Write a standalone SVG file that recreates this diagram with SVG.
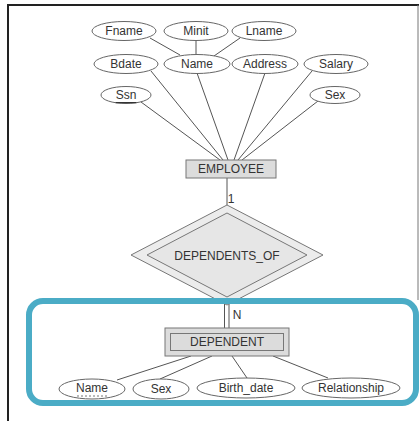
<svg xmlns="http://www.w3.org/2000/svg" width="419" height="421" viewBox="0 0 419 421">
<style>
.attr{fill:#fff;stroke:#666;stroke-width:1}
.t{font-family:"Liberation Sans",Arial,sans-serif;font-size:12px;fill:#333;text-anchor:middle;dominant-baseline:central}
.ln{stroke:#555;stroke-width:1;fill:none}
.ent{fill:#dcdcdc;stroke:#777;stroke-width:1}
</style>
<rect x="0" y="0" width="419" height="421" fill="#fff"/>
<g id="frame">
<path d="M8 421 V5 H419" fill="none" stroke="#222" stroke-width="2"/>
<path d="M418 5 V300" fill="none" stroke="#777" stroke-width="1"/>
</g>
<g id="connectors">
<line class="ln" x1="150" y1="38" x2="180" y2="55"/>
<line class="ln" x1="196" y1="40" x2="196" y2="55"/>
<line class="ln" x1="240" y1="38" x2="214" y2="56"/>
<line class="ln" x1="141" y1="102" x2="220" y2="160"/>
<line class="ln" x1="151" y1="71" x2="223" y2="160"/>
<line class="ln" x1="197" y1="73" x2="228" y2="160"/>
<line class="ln" x1="265" y1="73" x2="234" y2="160"/>
<line class="ln" x1="312" y1="71" x2="238" y2="160"/>
<line class="ln" x1="318" y1="101" x2="242" y2="160"/>
<line class="ln" x1="227" y1="178" x2="227" y2="205" stroke-width="1.5"/>
<line class="ln" x1="224.5" y1="302" x2="224.5" y2="328"/>
<line class="ln" x1="229" y1="302" x2="229" y2="328"/>
<line class="ln" x1="191" y1="356" x2="117" y2="380"/>
<line class="ln" x1="212" y1="356" x2="160" y2="379"/>
<line class="ln" x1="232" y1="356" x2="247" y2="378"/>
<line class="ln" x1="273" y1="356" x2="328" y2="378"/>
<text class="t" x="231" y="199" font-size="11">1</text>
<text class="t" x="237" y="315" font-size="11">N</text>
</g>
<g id="Fname"><ellipse class="attr" cx="124" cy="31" rx="32" ry="9.5"/><text class="t" x="124" y="31">Fname</text></g>
<g id="Minit"><ellipse class="attr" cx="196" cy="31" rx="32" ry="9.5"/><text class="t" x="196" y="31">Minit</text></g>
<g id="Lname"><ellipse class="attr" cx="264" cy="31" rx="32" ry="9.5"/><text class="t" x="264" y="31">Lname</text></g>
<g id="Bdate"><ellipse class="attr" cx="126" cy="64" rx="32" ry="9.5"/><text class="t" x="126" y="64">Bdate</text></g>
<g id="Name"><ellipse class="attr" cx="197" cy="64" rx="33" ry="9.5"/><text class="t" x="197" y="64">Name</text></g>
<g id="Address"><ellipse class="attr" cx="265" cy="64" rx="33" ry="9.5"/><text class="t" x="265" y="64">Address</text></g>
<g id="Salary"><ellipse class="attr" cx="336" cy="64" rx="32" ry="9.5"/><text class="t" x="336" y="64">Salary</text></g>
<g id="Ssn"><ellipse class="attr" cx="126" cy="95" rx="25" ry="8.5"/><text class="t" x="126" y="95" text-decoration="underline">Ssn</text></g>
<g id="Sex"><ellipse class="attr" cx="335" cy="95" rx="25" ry="8.5"/><text class="t" x="335" y="95">Sex</text></g>
<g id="EMPLOYEE"><rect class="ent" x="186" y="160" width="90" height="18"/><text class="t" x="231" y="169" font-size="12.5">EMPLOYEE</text></g>
<g id="DEPENDENTS_OF">
<polygon points="227,205 323,255 227,305 131,255" fill="#ececec" stroke="#777" stroke-width="1"/>
<polygon points="227,213 307,255 227,297 147,255" fill="#e6e6e6" stroke="#777" stroke-width="1"/>
<text class="t" x="227" y="256" font-size="12.5">DEPENDENTS_OF</text>
</g>
<g id="highlight"><rect x="29" y="301" width="387" height="102" rx="14" fill="none" stroke="#4BACC6" stroke-width="6"/></g>
<g id="DEPENDENT">
<rect class="ent" x="165" y="328" width="124" height="28" fill="#e4e4e4"/>
<rect class="ent" x="170.5" y="333.5" width="113" height="17"/>
<text class="t" x="227" y="342" font-size="12.5">DEPENDENT</text>
</g>
<g id="DName"><ellipse class="attr" cx="92" cy="389" rx="33" ry="10"/><text class="t" x="92" y="388">Name</text><line x1="77" y1="396" x2="107" y2="396" stroke="#777" stroke-width="1" stroke-dasharray="2,2"/></g>
<g id="DSex"><ellipse class="attr" cx="161" cy="389" rx="28" ry="10"/><text class="t" x="161" y="389">Sex</text></g>
<g id="Birth_date"><ellipse class="attr" cx="246" cy="388" rx="49" ry="10"/><text class="t" x="246" y="388">Birth_date</text></g>
<g id="Relationship"><ellipse class="attr" cx="351" cy="388" rx="49" ry="10"/><text class="t" x="351" y="388">Relationship</text></g>
</svg>
